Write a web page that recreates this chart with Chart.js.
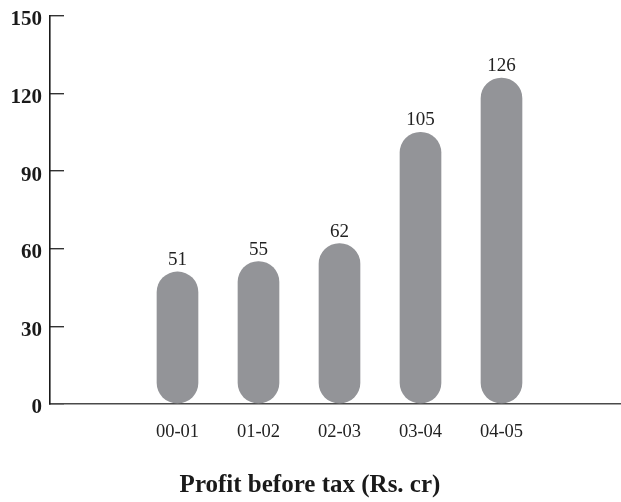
<!DOCTYPE html>
<html>
<head>
<meta charset="utf-8">
<script src="https://cdn.jsdelivr.net/npm/chart.js@4"></script>
<style>
  html, body { margin: 0; padding: 0; background: #fff; }
  #wrap { width: 621px; height: 502px; }
</style>
</head>
<body>
<div id="wrap"><canvas id="pbt"></canvas></div>
<script>
// Profit before tax, Rs. crore
const years = ['00-01', '01-02', '02-03', '03-04', '04-05'];
const profit = [51, 55, 62, 105, 126];
const yTicks = [0, 30, 60, 90, 120, 150];

const serif = "'Liberation Serif', 'Times New Roman', serif";

// numbers printed above each pill
const valueLabels = {
  id: 'valueLabels',
  afterDatasetsDraw(chart) {
    const ctx = chart.ctx;
    const meta = chart.getDatasetMeta(0);
    ctx.save();
    ctx.font = '19px ' + serif;
    ctx.fillStyle = '#222';
    ctx.textAlign = 'center';
    ctx.textBaseline = 'alphabetic';
    meta.data.forEach((bar, i) => {
      ctx.fillText(String(profit[i]), bar.x, bar.y - 7);
    });
    ctx.restore();
  }
};

new Chart(document.getElementById('pbt').getContext('2d'), {
  type: 'bar',
  data: {
    datasets: [{
      data: profit.map((v, i) => ({ x: i, y: v })),
      backgroundColor: '#939498',
      borderWidth: 0,
      borderRadius: 21,
      borderSkipped: false,
      barThickness: 41
    }]
  },
  options: {
    responsive: true,
    maintainAspectRatio: false,
    animation: false,
    layout: { padding: { left: 0, right: 1, top: 16, bottom: 0 } },
    scales: {
      x: {
        type: 'linear',
        offset: false,
        min: -1.574,
        max: 5.463,
        afterBuildTicks: s => { s.ticks = years.map((_, i) => ({ value: i })); },
        ticks: {
          callback: v => years[v] ?? '',
          padding: 17,
          color: '#222',
          font: { family: serif, size: 18.5 },
          maxRotation: 0,
          autoSkip: false
        },
        grid: { drawOnChartArea: false, drawTicks: false },
        border: { color: '#4a4a4a', width: 1.6 }
      },
      y: {
        min: 0,
        max: 150,
        afterBuildTicks: s => { s.ticks = yTicks.map(v => ({ value: v })); },
        afterFit: s => { s.width = 50; s.paddingTop = 0; s.paddingBottom = 0; },
        ticks: {
          padding: 22,
          labelOffset: 4,
          color: '#1a1a1a',
          font: { family: serif, size: 21, weight: 'bold' }
        },
        grid: { drawOnChartArea: false, drawTicks: true, tickLength: -14, color: '#333', lineWidth: 1.4 },
        border: { color: '#1a1a1a', width: 1.6 }
      }
    },
    plugins: {
      legend: { display: false },
      tooltip: { enabled: false },
      title: {
        display: true,
        position: 'bottom',
        text: 'Profit before tax (Rs. cr)',
        color: '#1a1a1a',
        font: { family: serif, size: 25, weight: 'bold' },
        padding: { top: 11, bottom: 1 }
      }
    }
  },
  plugins: [valueLabels]
});
</script>
</body>
</html>
